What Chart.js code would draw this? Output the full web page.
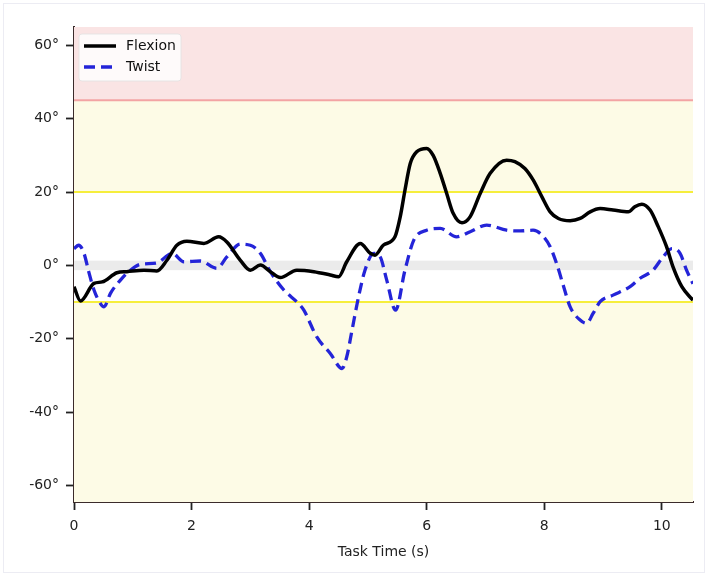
<!DOCTYPE html>
<html>
<head>
<meta charset="utf-8">
<script src="https://cdn.jsdelivr.net/npm/chart.js@4/dist/chart.umd.min.js"></script>
<style>
  html, body { margin: 0; padding: 0; background: #fff; }
  #wrap { width: 709px; height: 577px; position: relative; }
</style>
</head>
<body>
<div id="wrap"><canvas id="angleChart"></canvas></div>
<script>
// 資料：時間 (s) 與角度 (°)
const flexionTime  = [0, 0.11, 0.34, 0.48, 0.73, 0.9, 1.19, 1.41, 1.58, 1.75, 1.92, 2.21, 2.46, 2.6, 2.83, 3.0, 3.17, 3.34, 3.51, 3.79, 4.08, 4.36, 4.5, 4.64, 4.87, 5.04, 5.12, 5.26, 5.46, 5.55, 5.63, 5.72, 5.83, 6.0, 6.11, 6.23, 6.34, 6.45, 6.6, 6.74, 6.91, 7.08, 7.36, 7.5, 7.67, 7.81, 7.96, 8.1, 8.24, 8.44, 8.61, 8.78, 8.95, 9.17, 9.43, 9.54, 9.66, 9.8, 9.94, 10.08, 10.19, 10.34, 10.53];
const flexionAngle = [-5.8, -9.7, -4.9, -4.5, -2.0, -1.7, -1.3, -1.5, 1.4, 5.5, 6.6, 6.0, 7.8, 6.4, 1.4, -1.3, 0.1, -1.7, -3.3, -1.3, -1.7, -2.6, -3.1, 1.0, 6.0, 3.3, 2.8, 5.5, 7.8, 13.3, 20.5, 27.8, 31.0, 31.9, 30.0, 25.1, 19.6, 14.2, 11.6, 13.3, 19.6, 25.1, 28.7, 28.3, 26.4, 23.3, 18.7, 14.6, 12.8, 12.2, 12.8, 14.6, 15.5, 15.1, 14.6, 16.0, 16.7, 15.1, 10.5, 5.1, -0.4, -5.8, -9.5];

const twistTime  = [0, 0.08, 0.17, 0.25, 0.34, 0.45, 0.51, 0.62, 0.79, 0.96, 1.13, 1.41, 1.67, 1.87, 2.15, 2.43, 2.6, 2.83, 3.0, 3.17, 3.34, 3.57, 3.82, 3.91, 4.13, 4.36, 4.56, 4.64, 4.73, 4.84, 4.95, 5.1, 5.21, 5.32, 5.47, 5.63, 5.78, 6.0, 6.23, 6.51, 6.74, 7.02, 7.36, 7.59, 7.81, 7.96, 8.1, 8.21, 8.33, 8.44, 8.61, 8.72, 8.83, 8.95, 9.17, 9.46, 9.63, 9.85, 10.02, 10.17, 10.31, 10.42, 10.53];
const twistAngle = [4.6, 5.5, 3.3, -1.7, -6.7, -10.4, -11.3, -7.6, -4.0, -1.3, 0.3, 0.7, 3.3, 1.0, 1.2, -0.8, 2.3, 5.8, 5.5, 3.3, -1.7, -6.7, -10.4, -12.2, -19.5, -24.0, -28.1, -24.9, -17.6, -8.6, -1.3, 3.3, 2.3, -4.0, -12.2, -1.3, 6.9, 9.6, 10.1, 7.8, 9.2, 11.0, 9.6, 9.4, 9.6, 8.3, 5.1, 0.5, -5.8, -11.3, -14.9, -15.8, -13.1, -9.9, -8.1, -5.8, -3.5, -1.3, 2.3, 4.6, 3.3, -1.3, -5.0];

// 座標軸刻度
const xTicks = [0, 2, 4, 6, 8, 10];
const yTicks = [-60, -40, -20, 0, 20, 40, 60];

// 區域範圍 (下限, 上限)
const zoneLow   = [-64.5, -10, 20, 45];
const zoneHigh  = [-10, 20, 45, 65];
const zoneColor = ['#fdfbe6', '#ffffff', '#fdfbe6', '#fae4e4'];
// 參考線
const refLines  = [45, 20, -10];
const refColors = ['#f3a4a4', '#f6ee3c', '#f6ee3c'];
const neutralBand = [-1.3, 1.3];

function toPoints(xs, ys) {
    return xs.map((x, i) => ({ x: x, y: ys[i] }));
}

// 背景區域與參考線
const zonePlugin = {
    id: 'zones',
    beforeDraw(chart) {
        // 外框
        const { ctx } = chart;
        ctx.save();
        ctx.strokeStyle = '#ececf3';
        ctx.lineWidth = 1;
        ctx.strokeRect(3.5, 3.5, 701, 569);
        ctx.restore();
    },
    beforeDatasetsDraw(chart) {
        const { ctx, chartArea, scales } = chart;
        const y = scales.y;
        ctx.save();
        zoneLow.forEach((lo, i) => {
            const top = y.getPixelForValue(zoneHigh[i]);
            const bot = y.getPixelForValue(lo);
            ctx.fillStyle = zoneColor[i];
            ctx.fillRect(chartArea.left, top, chartArea.right - chartArea.left, bot - top);
        });
        const nt = y.getPixelForValue(neutralBand[1]);
        const nb = y.getPixelForValue(neutralBand[0]);
        ctx.fillStyle = '#ebebeb';
        ctx.fillRect(chartArea.left, nt, chartArea.right - chartArea.left, nb - nt);
        refLines.forEach((v, i) => {
            const py = y.getPixelForValue(v);
            ctx.strokeStyle = refColors[i];
            ctx.lineWidth = 2;
            ctx.beginPath();
            ctx.moveTo(chartArea.left, py);
            ctx.lineTo(chartArea.right, py);
            ctx.stroke();
        });
        ctx.restore();
    }
};

// 圖例：畫在繪圖區左上角
const legendPlugin = {
    id: 'insideLegend',
    afterDraw(chart) {
        const { ctx, chartArea } = chart;
        const x0 = chartArea.left + 5, y0 = chartArea.top + 7;
        const w = 102, h = 47;
        ctx.save();
        ctx.fillStyle = 'rgba(255,255,255,0.8)';
        ctx.strokeStyle = 'rgba(225,225,225,0.8)';
        ctx.lineWidth = 1;
        ctx.beginPath();
        ctx.roundRect(x0, y0, w, h, 3);
        ctx.fill();
        ctx.stroke();
        ctx.font = '14px "DejaVu Sans"';
        ctx.textBaseline = 'middle';
        chart.data.datasets.forEach((ds, i) => {
            const ly = y0 + 12 + i * 21;
            ctx.strokeStyle = ds.borderColor;
            ctx.lineWidth = ds.borderWidth;
            ctx.setLineDash(ds.borderDash || []);
            ctx.beginPath();
            ctx.moveTo(x0 + 5, ly);
            ctx.lineTo(x0 + 37, ly);
            ctx.stroke();
            ctx.setLineDash([]);
            ctx.fillStyle = '#111';
            ctx.fillText(ds.label, x0 + 47, ly);
        });
        ctx.restore();
    }
};

const axisColor = '#3b2b2b';

new Chart(document.getElementById('angleChart').getContext('2d'), {
    type: 'line',
    data: {
        datasets: [{
            label: 'Flexion',
            data: toPoints(flexionTime, flexionAngle),
            borderColor: '#000000',
            borderWidth: 3.5,
            pointRadius: 0,
            cubicInterpolationMode: 'monotone',
            fill: false
        }, {
            label: 'Twist',
            data: toPoints(twistTime, twistAngle),
            borderColor: '#2424d8',
            borderWidth: 3.3,
            borderDash: [11, 6],
            pointRadius: 0,
            cubicInterpolationMode: 'monotone',
            fill: false
        }]
    },
    options: {
        responsive: true,
        maintainAspectRatio: false,
        animation: false,
        layout: { padding: { top: 27, right: 16, left: 0, bottom: 16 } },
        plugins: {
            legend: { display: false },
            tooltip: { enabled: false }
        },
        scales: {
            x: {
                type: 'linear',
                min: 0,
                max: 10.53,
                afterBuildTicks: axis => { axis.ticks = xTicks.map(v => ({ value: v })); },
                afterFit: axis => { axis.height = 59; },
                grid: { drawOnChartArea: false, drawTicks: true, tickLength: 8, tickColor: '#222', tickWidth: 1.8 },
                border: { color: axisColor, width: 2 },
                ticks: {
                    color: '#222',
                    padding: 8,
                    maxRotation: 0,
                    font: { family: 'DejaVu Sans', size: 14 }
                },
                title: {
                    display: true,
                    text: 'Task Time (s)',
                    color: '#222',
                    padding: { top: 4, bottom: 0 },
                    font: { family: 'DejaVu Sans', size: 14 }
                }
            },
            y: {
                min: -64.5,
                max: 65,
                afterBuildTicks: axis => { axis.ticks = yTicks.map(v => ({ value: v })); },
                afterFit: axis => { axis.width = 74; },
                grid: { drawOnChartArea: false, drawTicks: true, tickLength: 8, tickColor: '#222', tickWidth: 1.8 },
                border: { color: axisColor, width: 2 },
                ticks: {
                    color: '#222',
                    padding: 7,
                    font: { family: 'DejaVu Sans', size: 14 },
                    callback: value => value + '°'
                }
            }
        }
    },
    plugins: [zonePlugin, legendPlugin]
});
</script>
</body>
</html>
